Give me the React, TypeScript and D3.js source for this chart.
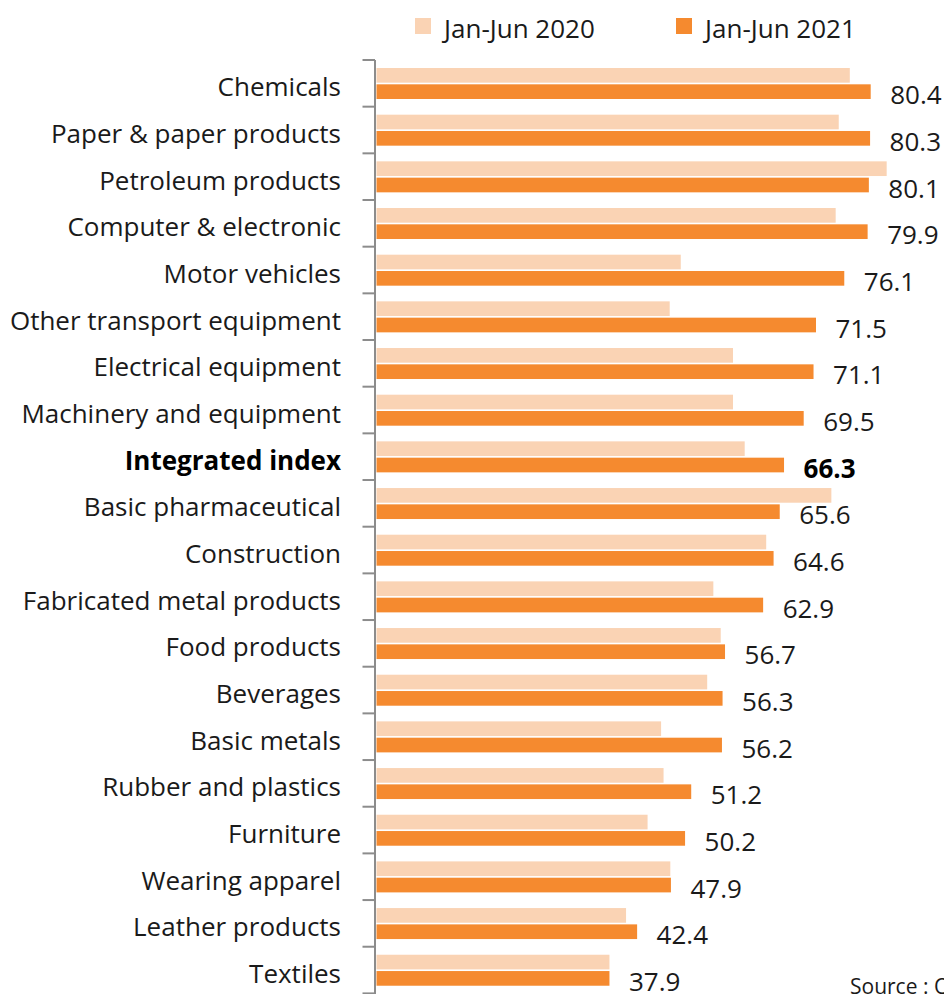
import { useEffect, useRef } from 'react';
import * as d3 from 'd3';

const categories = [
  'Chemicals',
  'Paper & paper products',
  'Petroleum products',
  'Computer & electronic',
  'Motor vehicles',
  'Other transport equipment',
  'Electrical equipment',
  'Machinery and equipment',
  'Integrated index',
  'Basic pharmaceutical',
  'Construction',
  'Fabricated metal products',
  'Food products',
  'Beverages',
  'Basic metals',
  'Rubber and plastics',
  'Furniture',
  'Wearing apparel',
  'Leather products',
  'Textiles',
];

const values2020 = [
  77.0, 75.2, 83.0, 74.7, 49.5, 47.7, 58.0, 58.0, 59.9, 74.0,
  63.4, 54.8, 56.0, 53.8, 46.3, 46.7, 44.1, 47.8, 40.6, 37.9,
];

const values2021 = [
  80.4, 80.3, 80.1, 79.9, 76.1, 71.5, 71.1, 69.5, 66.3, 65.6,
  64.6, 62.9, 56.7, 56.3, 56.2, 51.2, 50.2, 47.9, 42.4, 37.9,
];

const seriesNames = ['Jan-Jun 2020', 'Jan-Jun 2021'];
const seriesColors = ['#FAD3B4', '#F58A2F'];
const highlight = 'Integrated index';

const FONT = '"Open Sans", "Noto Sans", sans-serif';

const App = () => {
  const svgRef = useRef<SVGSVGElement>(null);

  useEffect(() => {
    if (!svgRef.current) return;
    const svg = d3.select(svgRef.current);
    svg.selectAll('*').remove();

    const width = 944;
    const height = 994;
    const axisX = 376.5;
    const top = 60;
    const rowH = 46.67;

    svg.attr('width', width).attr('height', height);

    const x = d3.scaleLinear().domain([0, 80.4]).range([axisX, 870.7]);

    const y = d3.scaleBand<string>()
      .domain(categories)
      .range([top, top + rowH * categories.length])
      .padding(0);

    const inner = d3.scaleBand<string>()
      .domain(seriesNames)
      .range([8, 39])
      .paddingInner(0.1);

    const rows = categories.map((c, i) => ({
      cat: c,
      vals: [values2020[i], values2021[i]],
    }));

    // Bars
    const g = svg.append('g');
    rows.forEach(r => {
      r.vals.forEach((v, si) => {
        g.append('rect')
          .attr('x', x(0))
          .attr('y', (y(r.cat) || 0) + (inner(seriesNames[si]) || 0))
          .attr('width', x(v) - x(0))
          .attr('height', inner.bandwidth())
          .attr('fill', seriesColors[si]);
      });
    });

    // Axis line and ticks between categories
    const axisG = svg.append('g').attr('stroke', '#8c8c8c').attr('stroke-width', 2);
    axisG.append('line')
      .attr('x1', axisX - 1.5).attr('x2', axisX - 1.5)
      .attr('y1', top).attr('y2', height);
    const bounds = categories.map(c => y(c) || 0).concat([top + rowH * categories.length]);
    axisG.selectAll('.tick')
      .data(bounds)
      .enter()
      .append('line')
      .attr('x1', axisX - 14).attr('x2', axisX - 1.5)
      .attr('y1', d => d).attr('y2', d => d);

    // Category labels
    svg.append('g')
      .selectAll('text')
      .data(categories)
      .enter()
      .append('text')
      .attr('x', 341)
      .attr('y', d => (y(d) || 0) + rowH / 2 + 13)
      .attr('text-anchor', 'end')
      .attr('font-family', FONT)
      .attr('font-size', 26)
      .attr('font-weight', d => (d === highlight ? 700 : 400))
      .attr('fill', d => (d === highlight ? '#000' : '#1a1a1a'))
      .text(d => d);

    // Value labels (2021)
    svg.append('g')
      .selectAll('text')
      .data(rows)
      .enter()
      .append('text')
      .attr('x', d => x(d.vals[1]) + 19.5)
      .attr('y', d => (y(d.cat) || 0) + rowH / 2 + 21)
      .attr('font-family', FONT)
      .attr('font-size', 26)
      .attr('font-weight', d => (d.cat === highlight ? 700 : 400))
      .attr('fill', d => (d.cat === highlight ? '#000' : '#1a1a1a'))
      .text(d => d.vals[1].toFixed(1));

    // Legend
    const legendX = [415, 676];
    const lg = svg.append('g');
    seriesNames.forEach((s, i) => {
      lg.append('rect')
        .attr('x', legendX[i])
        .attr('y', 18)
        .attr('width', 16)
        .attr('height', 16)
        .attr('fill', seriesColors[i]);
      lg.append('text')
        .attr('x', legendX[i] + 29)
        .attr('y', 37.5)
        .attr('font-family', FONT)
        .attr('font-size', 26)
        .attr('fill', '#1a1a1a')
        .text(s);
    });

    // Source note (cut off at the edge)
    svg.append('text')
      .attr('x', 850)
      .attr('y', 994)
      .attr('font-family', FONT)
      .attr('font-size', 21)
      .attr('fill', '#1a1a1a')
      .text('Source : OIE');
  }, []);

  return (
    <div style={{ position: 'absolute', left: 0, top: 0 }}>
      <svg ref={svgRef} style={{ display: 'block' }} />
    </div>
  );
};

export default App;
